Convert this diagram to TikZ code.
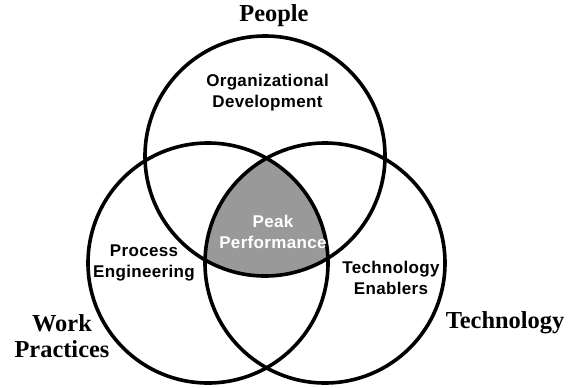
\documentclass[tikz,border=0pt]{standalone}
\usepackage{fontspec}
\setmainfont{Liberation Serif}
\newfontfamily\labelsans[LetterSpace=2]{Liberation Sans}
\begin{document}
\begin{tikzpicture}[x=0.5pt,y=-0.5pt,
  ring/.style={line width=1.8pt,draw=black},
  setname/.style={font=\bfseries\fontsize{12.2}{13}\selectfont,inner sep=0pt,align=center},
  region/.style={font=\labelsans\bfseries\fontsize{8.5}{10.5}\selectfont,inner sep=0pt,align=center}]
  \useasboundingbox (0,0) rectangle (568,387);
  % circle centres
  \coordinate (cP) at (265,156);
  \coordinate (cW) at (208,263);
  \coordinate (cT) at (325,263);
  % shaded common region
  \begin{scope}
    \clip (cP) circle [radius=60pt];
    \clip (cW) circle [radius=60pt];
    \fill[black!40] (cT) circle [radius=60pt];
  \end{scope}
  % the three sets
  \draw[ring] (cP) circle [radius=60pt];
  \draw[ring] (cW) circle [radius=60pt];
  \draw[ring] (cT) circle [radius=60pt];
  % set names
  \node[setname,anchor=base] (people) at (274,21) {People};
  \node[setname,anchor=base] (tech) at (505,328) {Technology};
  \node[setname] (work) at (62,336) {Work\\Practices};
  % region labels
  \node[region] (od) at (267.5,93) {Organizational\\Development};
  \node[region,text=white] (pp) at (273,231.5) {Peak\\Performance};
  \node[region] (pe) at (144,262.5) {Process\\Engineering};
  \node[region] (te) at (391,278) {Technology\\Enablers};
\end{tikzpicture}
\end{document}
